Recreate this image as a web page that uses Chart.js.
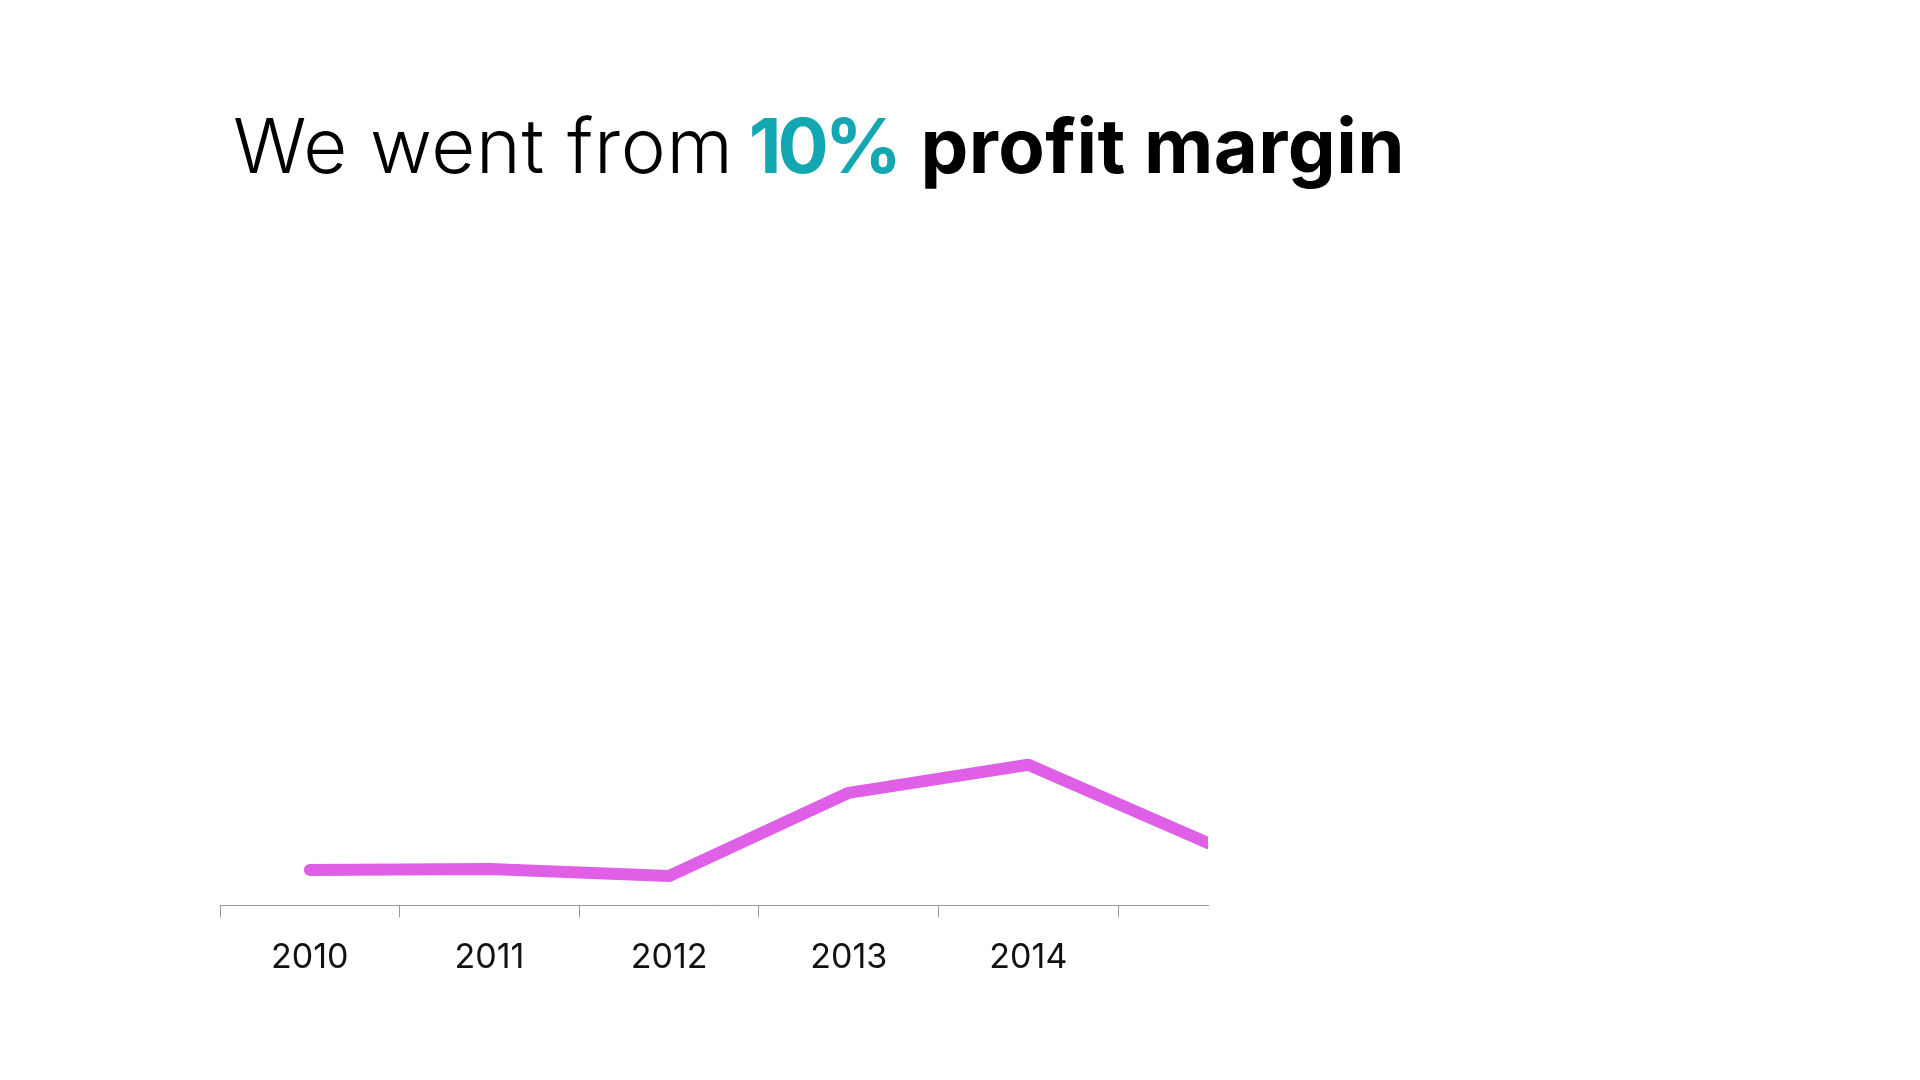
<!DOCTYPE html>
<html>
<head>
<meta charset="utf-8">
<title>Profit margin</title>
<script src="https://cdn.jsdelivr.net/npm/chart.js@4.4.1/dist/chart.umd.min.js"></script>
<style>
    html, body {
        margin: 0;
        padding: 0;
        background: #ffffff;
        width: 1920px;
        height: 1080px;
        overflow: hidden;
    }
    #headline {
        position: absolute;
        left: 233px;
        top: 107px;
        font-family: 'Inter', sans-serif;
        font-size: 76px;
        line-height: 1;
        color: #000000;
        white-space: nowrap;
    }
    #headline .light { font-weight: 300; letter-spacing: 0.7px; }
    #headline .gap { font-weight: 300; letter-spacing: -6px; }
    #headline .accent { font-weight: 700; color: #13a7b2; letter-spacing: -4px; margin-right: 4px; }
    #headline .bold { font-weight: 700; letter-spacing: 0.4px; }
    #chartWrap {
        position: absolute;
        left: 0;
        top: 0;
        width: 1920px;
        height: 1080px;
    }
</style>
</head>
<body>
<div id="headline"><span class="light">We went from</span><span class="gap"> </span><span class="accent">10%</span><span class="bold"> profit margin</span></div>
<div id="chartWrap"><canvas id="marginChart" width="1920" height="1080"></canvas></div>

<script>
// Chart data
const years = [2010, 2011, 2012, 2013, 2014, 2015];
const margins = [10, 10.3, 8.3, 32, 40, 17.7];
const tickLabels = ['2010', '2011', '2012', '2013', '2014'];

// visible x window: half a slot before the first year up to the 2015 point
const xMin = 2009.5;
const xMax = 2015;

document.addEventListener('DOMContentLoaded', function() {
    initMarginChart();
});

function initMarginChart() {
    const points = years.map((y, i) => ({ x: y, y: margins[i] }));

    new Chart(document.getElementById('marginChart'), {
        type: 'line',
        data: {
            datasets: [{
                data: points,
                borderColor: '#df5fe7',
                borderWidth: 12,
                borderCapStyle: 'round',
                borderJoinStyle: 'round',
                pointRadius: 0,
                tension: 0,
                fill: false,
                clip: 0
            }]
        },
        options: {
            responsive: false,
            animation: false,
            devicePixelRatio: 1,
            layout: {
                padding: { left: 220, right: 712, top: 554, bottom: 82 }
            },
            scales: {
                x: {
                    type: 'linear',
                    min: xMin,
                    max: xMax,
                    afterBuildTicks: function(scale) {
                        // a mark between each year, a label on each year
                        const ticks = [];
                        tickLabels.forEach(label => {
                            const y = Number(label);
                            ticks.push({ value: y - 0.5 });
                            ticks.push({ value: y });
                        });
                        ticks.push({ value: Number(tickLabels[tickLabels.length - 1]) + 0.5 });
                        ticks.push({ value: xMax });
                        scale.ticks = ticks;
                    },
                    ticks: {
                        autoSkip: false,
                        maxRotation: 0,
                        padding: 20,
                        color: '#111111',
                        font: { family: 'Inter', size: 34, weight: '400' },
                        callback: function(value) {
                            return tickLabels.includes(String(value)) ? String(value) : '';
                        }
                    },
                    grid: {
                        drawOnChartArea: false,
                        drawTicks: true,
                        tickLength: 12,
                        tickWidth: 1,
                        tickColor: function(ctx) {
                            return Number.isInteger(ctx.tick.value) ? 'rgba(0,0,0,0)' : '#9a9a9a';
                        }
                    },
                    border: { display: true, color: '#9a9a9a', width: 1 }
                },
                y: {
                    display: false,
                    min: 0,
                    max: 100
                }
            },
            plugins: {
                legend: { display: false },
                tooltip: { enabled: false }
            }
        }
    });
}
</script>
</body>
</html>
